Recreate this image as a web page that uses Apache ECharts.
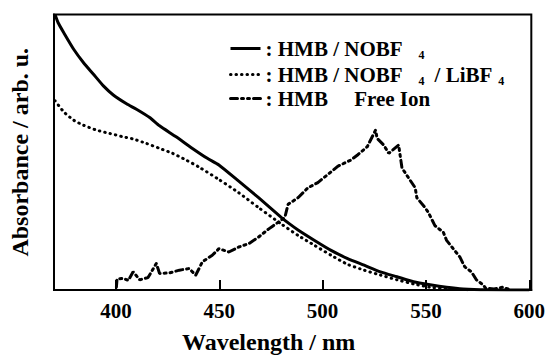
<!DOCTYPE html>
<html>
<head>
<meta charset="utf-8">
<script src="https://cdn.jsdelivr.net/npm/echarts@6/dist/echarts.min.js"></script>
<style>
  html, body {margin: 0; padding: 0; background: #fff;}
  #chart {width: 548px; height: 359px;}
</style>
</head>
<body>
<div id="chart"></div>
<script>
// wavelength ticks (nm)
const xTicks = [400, 450, 500, 550, 600];

// [wavelength, absorbance]
const nobf4 = [
  [370.5, 1.0], [372, 0.97], [374.8, 0.933], [379.6, 0.873], [384.3, 0.825],
  [389.1, 0.783], [393.9, 0.741], [398.7, 0.708], [405.1, 0.676], [409.9, 0.656],
  [416.3, 0.626], [421.1, 0.596], [429.1, 0.556], [437, 0.514], [444.2, 0.478],
  [449.8, 0.454], [459.4, 0.395], [469, 0.335], [480.1, 0.263], [484, 0.240],
  [488.1, 0.218], [496.1, 0.180], [504.1, 0.144], [512.1, 0.114], [520.1, 0.090],
  [528, 0.066], [536, 0.048], [544, 0.030], [552, 0.019], [560, 0.010],
  [568, 0.004], [580, 0.001], [600, 0.0]
];
const nobf4Libf4 = [
  [370.5, 0.687], [374.8, 0.646], [379.6, 0.616], [384.3, 0.598], [390.7, 0.580],
  [397.1, 0.568], [403.5, 0.556], [408.3, 0.548], [414.7, 0.532], [421.1, 0.514],
  [427.4, 0.496], [433.9, 0.472], [440.2, 0.446], [449.8, 0.401], [459.4, 0.353],
  [469, 0.299], [480.1, 0.239], [488.1, 0.198], [496.1, 0.162], [504.1, 0.126],
  [512.1, 0.093], [520.1, 0.072], [528, 0.054], [536, 0.037], [544, 0.022],
  [552, 0.010], [560, 0.004], [570, 0.001]
];
const freeIon = [
  [400.2, 0.01], [400.5, 0.04], [403.5, 0.042], [406, 0.035], [408.3, 0.066],
  [411.5, 0.037], [415.5, 0.045], [419.5, 0.096], [421.1, 0.060], [425.9, 0.062],
  [430.7, 0.072], [435.4, 0.078], [438.6, 0.054], [441.8, 0.102], [446.6, 0.126],
  [449.8, 0.150], [454.6, 0.138], [459.4, 0.156], [464.2, 0.168], [469, 0.192],
  [473.8, 0.221], [478.5, 0.246], [481.7, 0.263], [483.3, 0.311], [488.1, 0.335],
  [492.9, 0.371], [497.7, 0.390], [502.5, 0.419], [507.3, 0.449], [513.7, 0.472],
  [516.9, 0.490], [521.6, 0.520], [525.6, 0.580], [526.4, 0.550], [529.6, 0.526],
  [532, 0.496], [536.8, 0.526], [538.4, 0.443], [541.6, 0.407], [544.8, 0.371],
  [545.6, 0.335], [549.6, 0.299], [551.2, 0.281], [554.4, 0.233], [558.4, 0.210],
  [560, 0.180], [563.2, 0.150], [566.4, 0.120], [568.8, 0.084], [572, 0.066],
  [574.4, 0.037], [577.6, 0.019], [579, 0.006], [583, 0.004], [587, 0.010],
  [590, 0.003]
];

const font = '"Liberation Serif", "Times New Roman", serif';
const chart = echarts.init(document.getElementById('chart'), null, {renderer: 'svg'});

// legend labels with subscript 4
const legendText = {
  'HMB / NOBF4': '{m|: HMB / NOBF}{s|4}',
  'HMB / NOBF4 / LiBF4': '{m|: HMB / NOBF}{s|4}{m|/ LiBF}{t|4}',
  'HMB Free Ion': '{m|: HMB     Free Ion}'
};

chart.setOption({
  animation: false,
  grid: {left: 54, right: 12, top: 14.5, bottom: 65.5, show: true, borderColor: '#000', borderWidth: 2},
  legend: {
    orient: 'vertical',
    left: 224,
    top: 31,
    itemWidth: 30,
    itemHeight: 14,
    itemGap: 1,
    itemStyle: {opacity: 0},
    lineStyle: {width: 3},
    textStyle: {
      color: '#000',
      rich: {
        m: {fontFamily: font, fontWeight: 'bold', fontSize: 21, lineHeight: 25, color: '#000'},
        s: {fontFamily: font, fontWeight: 'bold', fontSize: 12, lineHeight: 12, padding: [13, 10, 0, 16], color: '#000'},
        t: {fontFamily: font, fontWeight: 'bold', fontSize: 12, lineHeight: 12, padding: [13, 0, 0, 6], color: '#000'}
      }
    },
    formatter: name => legendText[name]
  },
  xAxis: {
    type: 'value',
    min: 370,
    max: 601,
    name: 'Wavelength / nm',
    nameLocation: 'middle',
    nameGap: 40,
    nameTextStyle: {fontFamily: font, fontWeight: 'bold', fontSize: 24, color: '#000', padding: [0, 48, 0, 0]},
    axisLine: {lineStyle: {color: '#000', width: 2}},
    axisTick: {inside: true, length: 10, lineStyle: {color: '#000', width: 2}, customValues: xTicks},
    axisLabel: {customValues: xTicks, margin: 10, fontFamily: font, fontWeight: 'bold', fontSize: 21, color: '#000'},
    splitLine: {show: false}
  },
  yAxis: {
    type: 'value',
    min: 0,
    max: 1,
    name: 'Absorbance / arb. u.',
    nameLocation: 'middle',
    nameGap: 22,
    nameTextStyle: {fontFamily: font, fontWeight: 'bold', fontSize: 24, color: '#000'},
    axisLine: {show: true, lineStyle: {color: '#000', width: 2}},
    axisTick: {show: false},
    axisLabel: {show: false},
    splitLine: {show: false}
  },
  series: [
    {
      name: 'HMB / NOBF4', type: 'line', data: nobf4, symbol: 'none', smooth: 0.2,
      itemStyle: {color: '#000'},
      lineStyle: {color: '#000', width: 3}
    },
    {
      name: 'HMB / NOBF4 / LiBF4', type: 'line', data: nobf4Libf4, symbol: 'none', smooth: 0.2,
      itemStyle: {color: '#000'},
      lineStyle: {color: '#000', width: 3, type: [0.5, 5], cap: 'round'}
    },
    {
      name: 'HMB Free Ion', type: 'line', data: freeIon, symbol: 'none',
      itemStyle: {color: '#000'},
      lineStyle: {color: '#000', width: 3, type: [7, 4, 2, 4, 2, 4], cap: 'round'}
    }
  ]
});
</script>
</body>
</html>
